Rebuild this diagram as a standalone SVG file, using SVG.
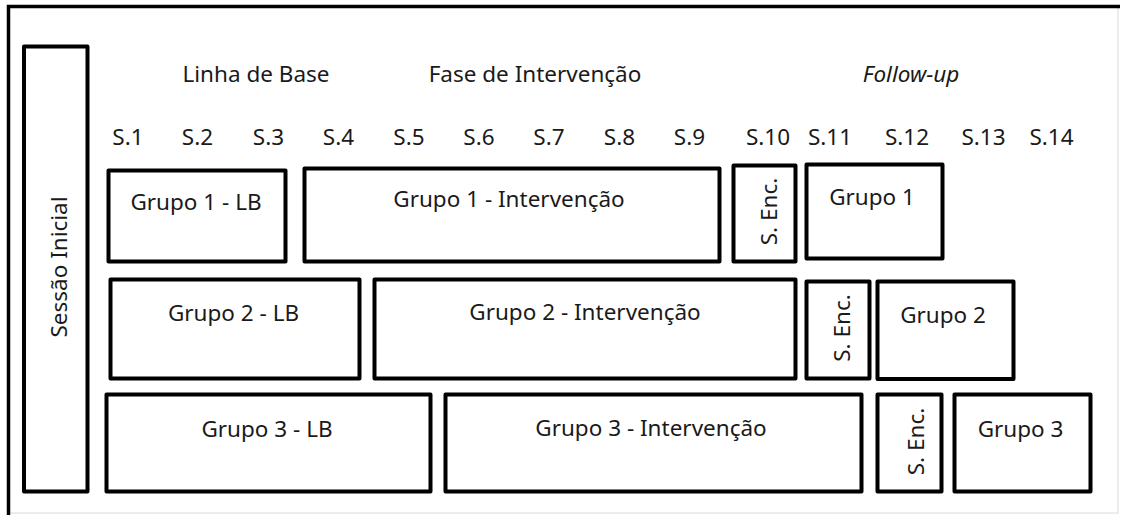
<svg xmlns="http://www.w3.org/2000/svg" width="1122" height="515" viewBox="0 0 1122 515">
<style>
.box{fill:#fff;stroke:#000;stroke-width:4;stroke-linejoin:round}
.t{font-family:"Noto Sans","Open Sans","DejaVu Sans",sans-serif;font-size:22.5px;fill:#1a1a1a;text-anchor:middle}
.it{font-style:italic}
</style>
<rect x="0" y="0" width="1122" height="515" fill="#fff"/>
<g id="frame">
<path d="M1118,6.5 V513 H8.5" fill="none" stroke="#e6e6e6" stroke-width="1.5"/>
<path d="M8.5,515 V6.5 H1120" fill="none" stroke="#000" stroke-width="3.5"/>
</g>
<g id="headers">
<text class="t" x="256" y="82">Linha de Base</text>
<text class="t" x="535" y="82">Fase de Intervenção</text>
<text class="t it" x="911" y="82">Follow-up</text>
</g>
<g id="sessions">
<text class="t" x="128" y="145">S.1</text>
<text class="t" x="197.5" y="145">S.2</text>
<text class="t" x="268.5" y="145">S.3</text>
<text class="t" x="338.5" y="145">S.4</text>
<text class="t" x="409" y="145">S.5</text>
<text class="t" x="479" y="145">S.6</text>
<text class="t" x="549" y="145">S.7</text>
<text class="t" x="619.5" y="145">S.8</text>
<text class="t" x="689.5" y="145">S.9</text>
<text class="t" x="768" y="145">S.10</text>
<text class="t" x="830" y="145">S.11</text>
<text class="t" x="907" y="145">S.12</text>
<text class="t" x="983.5" y="145">S.13</text>
<text class="t" x="1051.5" y="145">S.14</text>
</g>
<g id="sessao-inicial">
<rect class="box" x="24" y="46.5" width="63.5" height="445"/>
<text class="t" transform="translate(67,267) rotate(-90)">Sessão Inicial</text>
</g>
<g id="g1-lb">
<rect class="box" x="108.5" y="170.5" width="177" height="91"/>
<text class="t" x="196" y="210">Grupo 1 - LB</text>
</g>
<g id="g1-int">
<rect class="box" x="304.5" y="168.5" width="415" height="93"/>
<text class="t" x="509" y="207">Grupo 1 - Intervenção</text>
</g>
<g id="g1-enc">
<rect class="box" x="733.5" y="165.5" width="62" height="96"/>
<text class="t" transform="translate(777,211.5) rotate(-90)">S. Enc.</text>
</g>
<g id="g1-fu">
<rect class="box" x="806.5" y="164.5" width="136" height="94"/>
<text class="t" x="872" y="205">Grupo 1</text>
</g>
<g id="g2-lb">
<rect class="box" x="110.5" y="279.5" width="249" height="99"/>
<text class="t" x="233.5" y="321">Grupo 2 - LB</text>
</g>
<g id="g2-int">
<rect class="box" x="374.5" y="279.5" width="421" height="99"/>
<text class="t" x="585" y="320">Grupo 2 - Intervenção</text>
</g>
<g id="g2-enc">
<rect class="box" x="806.5" y="281.5" width="63" height="97"/>
<text class="t" transform="translate(850,328) rotate(-90)">S. Enc.</text>
</g>
<g id="g2-fu">
<rect class="box" x="877.5" y="281.5" width="136" height="97.5"/>
<text class="t" x="943" y="323">Grupo 2</text>
</g>
<g id="g3-lb">
<rect class="box" x="106.5" y="394.5" width="324" height="97"/>
<text class="t" x="267" y="437">Grupo 3 - LB</text>
</g>
<g id="g3-int">
<rect class="box" x="445.5" y="394.5" width="416" height="97"/>
<text class="t" x="651" y="436">Grupo 3 - Intervenção</text>
</g>
<g id="g3-enc">
<rect class="box" x="877.5" y="394.5" width="64" height="97"/>
<text class="t" transform="translate(924,441.5) rotate(-90)">S. Enc.</text>
</g>
<g id="g3-fu">
<rect class="box" x="954.5" y="394.5" width="136" height="97"/>
<text class="t" x="1020.5" y="437">Grupo 3</text>
</g>
<g id="connectors"></g>
</svg>
